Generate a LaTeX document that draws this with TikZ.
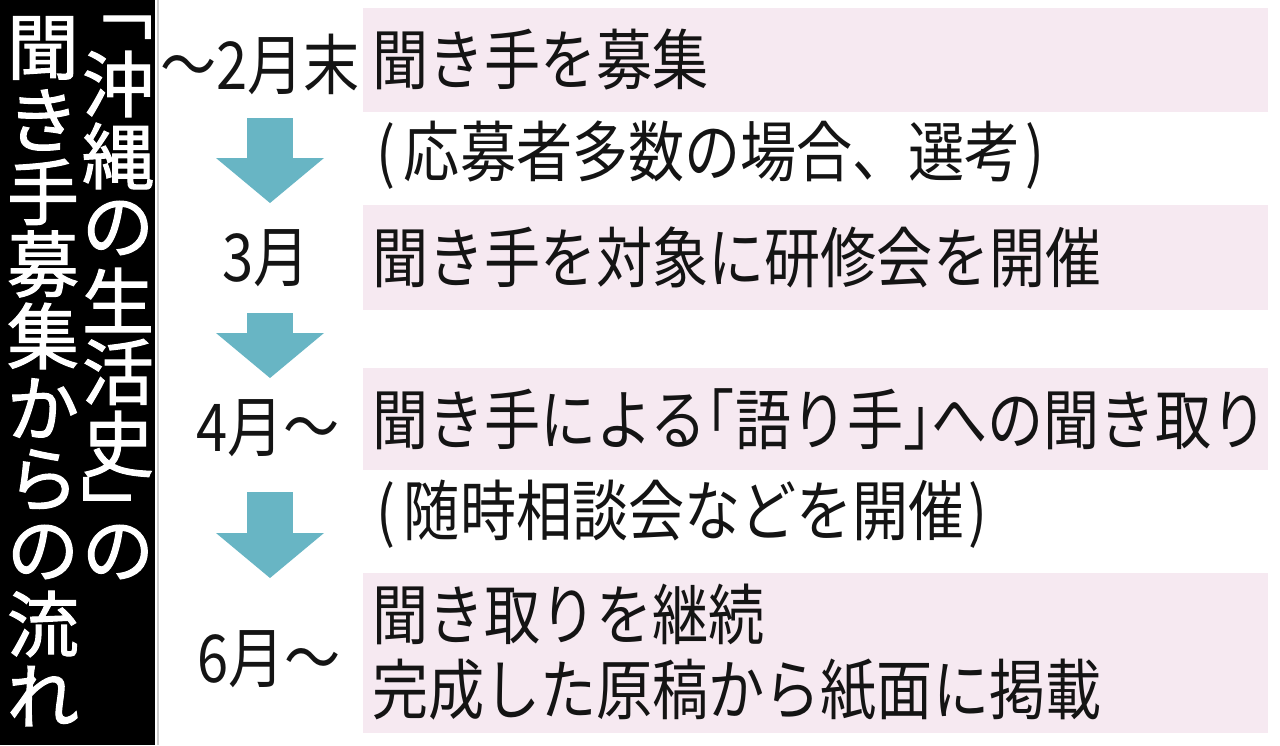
\documentclass[tikz,border=0pt]{standalone}
\usepackage{fontspec}
\usetikzlibrary{arrows.meta,calc}
\newfontfamily\jpfont[FakeStretch=0.85]{Noto Sans CJK JP}
\newfontfamily\jptitle[FakeBold=1.5]{Noto Sans CJK JP}
\definecolor{stepbg}{RGB}{246,233,241}
\definecolor{flowcol}{RGB}{104,181,196}
\definecolor{ink}{RGB}{20,20,20}

\begin{document}
\begin{tikzpicture}[x=1pt,y=-1pt,inner sep=0pt,outer sep=0pt,
stepbox/.style={fill=stepbg,anchor=north west,minimum width=905pt,text width=887pt,inner xsep=9pt,align=left,text=ink,font=\jpfont\fontsize{66}{75}\selectfont},
note/.style={anchor=west,text=ink,font=\jpfont\fontsize{66}{75}\selectfont},
month/.style={text=ink,font=\jpfont\fontsize{66}{75}\selectfont},
tchar/.style={text=white,font=\jptitle\fontsize{72}{72}\selectfont},
flow/.style={flowcol,line width=46pt,-{Triangle[length=45pt,width=108pt,line width=0pt]}}]

\useasboundingbox (0,0) rectangle (1280,745);
\fill[black] (0,0) rectangle (155,745);
\draw[gray!40,line width=1.5pt] (158,0) -- (158,745);

% title, written top to bottom
\foreach \ch [count=\i from 0] in {聞,き,手,募,集,か,ら,の,流,れ}
  \node[tchar] (tl\i) at (43,48+72*\i) {\ch};
\foreach \ch/\y [count=\i] in {沖/84,縄/156,の/228,生/300,活/372,史/444,の/552}
  \node[tchar] (tr\i) at (118,\y) {\ch};
\node[tchar,rotate=-90] (trl) at (120,5) {「};
\node[tchar,rotate=-90] (trr) at (107,511) {」};

% steps
\node[stepbox,minimum height=104pt] (s1) at (363,8) {聞き手を募集};
\node[note] (n1) at (376,155) {(\kern9pt 応募者多数の場合、選考\kern4pt)};
\node[stepbox,minimum height=105pt] (s2) at (363,205) {聞き手を対象に研修会を開催};
\node[stepbox,minimum height=102pt] (s3) at (363,368) {聞き手による\kern-28pt「語り手」\kern-28pt への聞き取り};
\node[note] (n2) at (376,514) {(\kern9pt 随時相談会などを開催\kern4pt)};
\node[stepbox,minimum height=160pt] (s4) at (363,573) {聞き取りを継続\\完成した原稿から紙面に掲載};

% months
\node[month] (m1) at (260,64) {～2月末};
\node[month] (m2) at (266,258) {3月};
\node[month] (m3) at (268,428) {4月～};
\node[month] (m4) at (269,659) {6月～};

\draw[flow] ($(m1.center)+(10,54)$) -- ($(m2.center)+(4,-55)$);
\draw[flow] ($(m2.center)+(4,55)$) -- ($(m3.center)+(2,-50)$);
\draw[flow] ($(m3.center)+(2,64)$) -- ($(m4.center)+(1,-81)$);
\end{tikzpicture}
\end{document}
